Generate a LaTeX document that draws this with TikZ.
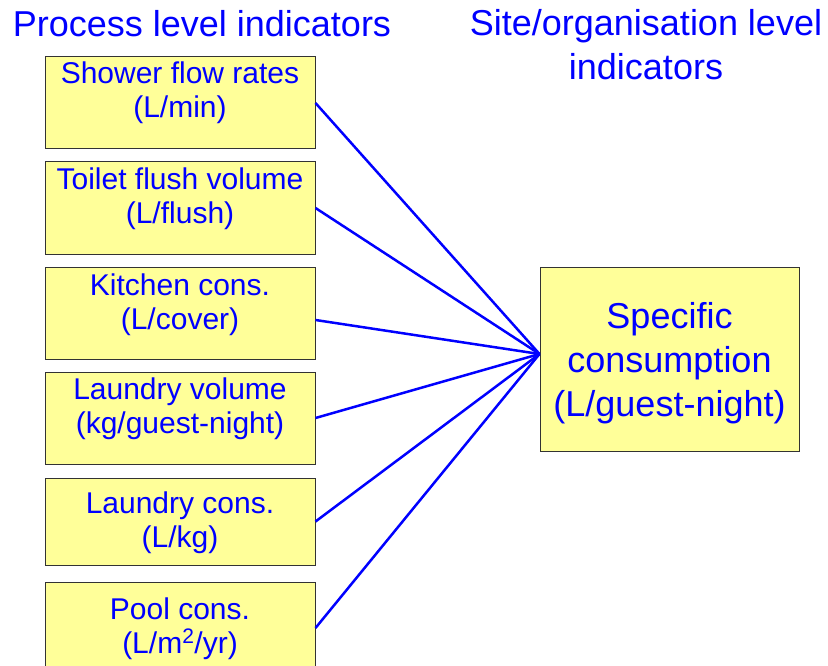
\documentclass[tikz,border=0pt]{standalone}
\usepackage{fontspec}
\setmainfont{Liberation Sans}
\definecolor{boxyellow}{HTML}{FFFF99}
\definecolor{textblue}{HTML}{0000FF}
\begin{document}
\begin{tikzpicture}[x=1pt, y=-1pt,
    procbox/.style={draw=black!80, line width=1pt, fill=boxyellow, minimum width=270pt, minimum height=92pt, inner sep=0pt},
    proctext/.style={anchor=base, align=center, text=textblue, inner sep=0pt, font=\fontsize{30}{34}\selectfont},
    headtext/.style={anchor=base, align=center, text=textblue, inner sep=0pt, font=\fontsize{36}{44}\selectfont},
    link/.style={draw=textblue, line width=2.5pt}]
    \useasboundingbox (0,0) rectangle (828,666);

    % headings
    \node[headtext] (prochead) at (202,37) {Process level indicators};
    \node[headtext] (sitehead) at (646,80) {Site/organisation level\\indicators};

    % process level indicators
    \node[procbox] (shower) at (180,103) {};
    \node[proctext] (showertxt) at (180,118) {Shower flow rates\\(L/min)};

    \node[procbox] (toilet) at (180,208) {};
    \node[proctext] (toilettxt) at (180,223) {Toilet flush volume\\(L/flush)};

    \node[procbox] (kitchen) at (180,313) {};
    \node[proctext] (kitchentxt) at (180,329) {Kitchen cons.\\(L/cover)};

    \node[procbox] (laundryvol) at (180,418) {};
    \node[proctext] (laundryvoltxt) at (180,433) {Laundry volume\\(kg/guest-night)};

    \node[procbox, minimum height=87pt] (laundrycons) at (180,521.5) {};
    \node[proctext] (laundryconstxt) at (180,547) {Laundry cons.\\(L/kg)};

    \node[procbox] (pool) at (180,628) {};
    \node[proctext] (pooltxt) at (180,653) {Pool cons.\\(L/m\textsuperscript{2}/yr)};

    % site level indicator
    \node[procbox, minimum width=259pt, minimum height=184pt] (spec) at (669.5,359) {};
    \node[headtext] (spectxt) at (669.5,416) {Specific\\consumption\\(L/guest-night)};
    \coordinate (hub) at ([yshift=5pt]spec.west);

    \draw[link] (shower.east) -- (hub);
    \draw[link] (toilet.east) -- (hub);
    \draw[link] ([yshift=-7pt]kitchen.east) -- (hub);
    \draw[link] (laundryvol.east) -- (hub);
    \draw[link] (laundrycons.east) -- (hub);
    \draw[link] (pool.east) -- (hub);
\end{tikzpicture}
\end{document}
